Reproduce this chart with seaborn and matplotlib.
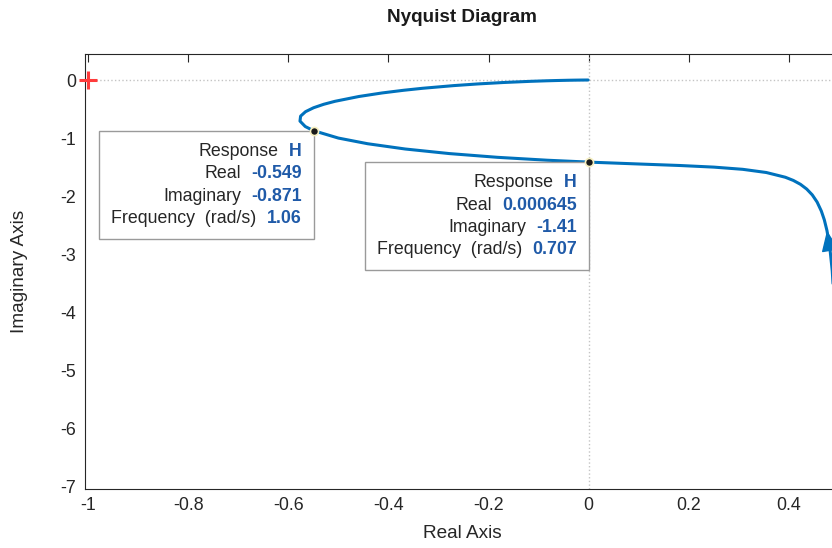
import matplotlib
matplotlib.use("Agg")
import matplotlib.pyplot as plt
import pandas as pd
import seaborn as sns
from matplotlib.offsetbox import TextArea, HPacker, VPacker, AnnotationBbox

# Frequency response H(jw), ordered from low to high frequency (rad/s)
freq = [0.07, 0.08, 0.1, 0.13, 0.16, 0.185, 0.21, 0.23, 0.25, 0.275, 0.3, 0.325,
        0.35, 0.375, 0.4, 0.45, 0.5, 0.55, 0.6, 0.65, 0.7071, 0.75, 0.8, 0.85,
        0.9, 0.95, 1.0, 1.064, 1.1, 1.15, 1.2, 1.25, 1.3, 1.35, 1.4, 1.5, 1.6,
        1.7, 1.8, 2.0, 2.2, 2.5, 3.0, 3.5, 4.0, 5.0, 6.0, 8.0, 10.0, 15.0, 30.0]
real_part = [0.4975, 0.4968, 0.4949, 0.4913, 0.4865, 0.4817, 0.4760, 0.4707, 0.4647,
             0.4563, 0.4466, 0.4355, 0.4230, 0.4088, 0.3928, 0.3548, 0.3077, 0.2503,
             0.1819, 0.1025, 0.0, -0.0829, -0.1819, -0.2783, -0.3664, -0.4413, -0.5,
             -0.5499, -0.5661, -0.5766, -0.5754, -0.5655, -0.5494, -0.5292, -0.5067,
             -0.4590, -0.4125, -0.3698, -0.3318, -0.2692, -0.2216, -0.1701, -0.1164,
             -0.0846, -0.0643, -0.04077, -0.02815, -0.01575, -0.01005, -0.004454,
             -0.001112]
imag_part = [-7.213, -6.330, -5.1005, -3.977, -3.287, -2.8908, -2.5954, -2.4096,
             -2.2573, -2.1027, -1.9787, -1.8784, -1.7967, -1.7299, -1.6751, -1.5934,
             -1.5385, -1.5007, -1.4726, -1.4474, -1.4142, -1.3817, -1.3319, -1.2673,
             -1.1885, -1.0979, -1.0, -0.8716, -0.8010, -0.7079, -0.6224, -0.5455,
             -0.4776, -0.4183, -0.3669, -0.2842, -0.2228, -0.1771, -0.1426, -0.0962,
             -0.0678, -0.0429, -0.0228, -0.01364, -0.00882, -0.004326, -0.002445,
             -0.001007, -0.00051, -0.000149, -0.0000186]

# Data tips
tip_freq = [1.06, 0.707]
tip_real = [-0.549, 0.000645]
tip_imag = [-0.871, -1.41]

x_ticks = [-1.0, -0.8, -0.6, -0.4, -0.2, 0.0, 0.2, 0.4]
x_tick_labels = ["-1", "-0.8", "-0.6", "-0.4", "-0.2", "0", "0.2", "0.4"]
y_ticks = [0, -1, -2, -3, -4, -5, -6, -7]
y_tick_labels = ["0", "-1", "-2", "-3", "-4", "-5", "-6", "-7"]

LINE = "#0072BD"
TEXT = "#262626"
VALUE = "#1f5aa8"
FS = 12.8

sns.set_theme(style="white")
plt.rcParams["font.family"] = ["Liberation Sans", "DejaVu Sans"]

fig = plt.figure(figsize=(8.32, 5.48), dpi=100)
ax = fig.add_axes([84.7 / 832, 1 - 488.7 / 548, (839.0 - 84.7) / 832, (488.7 - 54.0) / 548])

# zero lines
ax.axhline(0, color="#c4c4c4", ls=":", lw=1.0, zorder=1)
ax.axvline(0, color="#c4c4c4", ls=":", lw=1.0, zorder=1)

curve = pd.DataFrame({"freq": freq, "Real": real_part, "Imag": imag_part})
sns.lineplot(data=curve, x="Real", y="Imag", sort=False, estimator=None,
             color=LINE, lw=2.2, ax=ax, zorder=3)

# direction arrow on the low-frequency branch
i_base, i_tip = freq.index(0.185), freq.index(0.21)
ax.annotate("", xy=(real_part[i_tip], imag_part[i_tip]),
            xytext=(real_part[i_base], imag_part[i_base]),
            arrowprops=dict(arrowstyle="-|>,head_length=1.3,head_width=0.55",
                            mutation_scale=10, color=LINE, lw=1,
                            shrinkA=0, shrinkB=0), zorder=4)

# critical point
ax.plot([-1], [0], marker="+", color="#ff3b3b", ms=13, mew=2.2, ls="none",
        zorder=5, clip_on=False)


def fmt(v):
    return "{:.3g}".format(v)


for re_v, im_v, fr_v in zip(tip_real, tip_imag, tip_freq):
    rows = [("Response", "H"), ("Real", fmt(re_v)), ("Imaginary", fmt(im_v)),
            ("Frequency  (rad/s)", fmt(fr_v))]
    lines = []
    for lab, val in rows:
        lines.append(HPacker(children=[
            TextArea(lab, textprops=dict(color=TEXT, size=FS)),
            TextArea(val, textprops=dict(color=VALUE, size=FS, weight="bold"))],
            sep=7.5, align="baseline", pad=0))
    block = VPacker(children=lines, sep=3.8, align="right", pad=0)
    ab = AnnotationBbox(block, (re_v, im_v), xybox=(-8.6, -9.0),
                        boxcoords="offset points", box_alignment=(1, 1),
                        pad=0.79, frameon=True,
                        bboxprops=dict(edgecolor="#9a9a9a", facecolor="white", lw=1.0))
    ab.set_zorder(6)
    ax.add_artist(ab)

sns.scatterplot(x=tip_real, y=tip_imag, s=34, color="#1a1a1a", edgecolor="#f7f0c0",
                linewidth=1.2, ax=ax, zorder=7)

ax.set_xlim(-1.0066, 0.5)
ax.set_ylim(-7.04, 0.448)
ax.set_xticks(x_ticks)
ax.set_xticklabels(x_tick_labels)
ax.set_yticks(y_ticks)
ax.set_yticklabels(y_tick_labels)
ax.tick_params(direction="in", length=6, width=0.8, top=True, right=False,
               labelsize=FS, colors=TEXT, pad=6)
for sp in ax.spines.values():
    sp.set_color(TEXT)
    sp.set_linewidth(0.8)
ax.grid(False)

ax.set_title("Nyquist Diagram", fontsize=13.6, fontweight="bold", color="#1a1a1a", pad=23)
ax.set_xlabel("Real Axis", fontsize=13.7, color=TEXT)
ax.set_ylabel("Imaginary Axis", fontsize=13.7, color=TEXT)
ax.xaxis.set_label_coords(0.5009, -0.1042)
ax.xaxis.label.set_va("center")
ax.yaxis.set_label_coords(-0.0858, 0.5)
ax.yaxis.label.set_va("center")

fig.savefig("out.png", dpi=100)
